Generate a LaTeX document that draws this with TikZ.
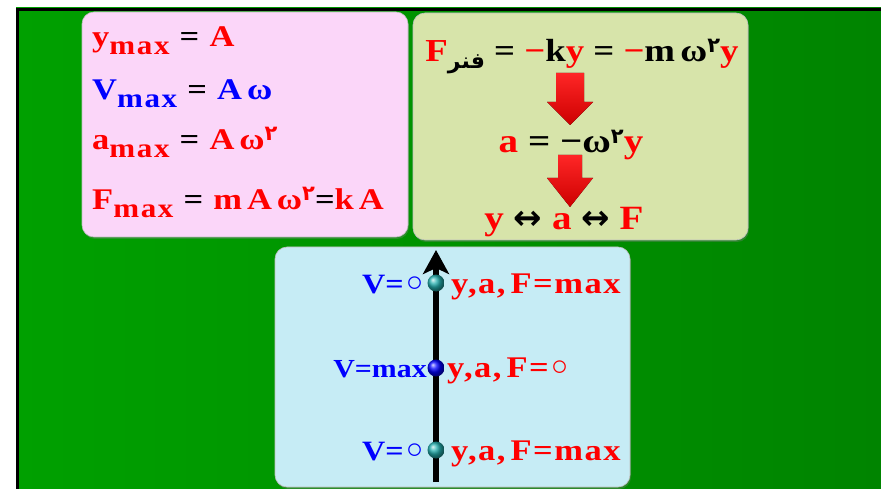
\documentclass[tikz,border=0pt]{standalone}
\usepackage{fontspec}
\setmainfont{Liberation Serif}[FakeStretch=1.15]
\newfontfamily\arabicfont[Script=Arabic]{DejaVu Sans}
\newfontfamily\symfont{DejaVu Sans}
\TeXXeTstate=1
\usetikzlibrary{arrows.meta,shadows}

\definecolor{bggreen}{RGB}{0,160,0}
\definecolor{bgdark}{RGB}{0,132,0}
\definecolor{boxpink}{RGB}{251,214,249}
\definecolor{boxolive}{RGB}{215,228,170}
\definecolor{boxcyan}{RGB}{198,236,245}
\definecolor{dotteal}{RGB}{35,175,175}
\definecolor{eqred}{RGB}{255,0,0}
\definecolor{eqblue}{RGB}{0,0,255}

\newcommand\cred[1]{\textcolor{eqred}{#1}}
\newcommand\cblue[1]{\textcolor{eqblue}{#1}}
\newcommand\low[1]{\raisebox{-8pt}{\fontsize{27}{27}\selectfont\addfontfeature{LetterSpace=6}#1}}
\newcommand\two{\raisebox{9pt}{\fontsize{21}{21}\arabicfont ٢}}
\newcommand\lowar[1]{\raisebox{-7pt}{\fontsize{22}{22}\arabicfont\beginR #1\endR}}
\newcommand\zero{\raisebox{-3pt}{\fontsize{36}{36}\symfont ◦}}

\tikzset{
  panel/.style={rounded corners=12pt, draw=black!25, line width=0.6pt,
    drop shadow={shadow xshift=1pt, shadow yshift=-2pt, opacity=0.35}},
  eq/.style={inner sep=0pt, font=\bfseries\fontsize{#1}{#1}\selectfont},
  eq/.default=30,
  spaced/.style={font=\bfseries\fontsize{30}{30}\selectfont\addfontfeature{LetterSpace=#1}},
  spaced/.default=5,
  blockarrow/.style={top color=red!85!white, bottom color=red!80!black},
  dot/.style={circle, minimum size=17pt, inner sep=0pt},
}

\begin{document}
\begin{tikzpicture}[x=1pt, y=-1pt]
  \useasboundingbox (0,0) rectangle (881,489);

  % background
  \shade[left color=bggreen, right color=bgdark] (16,8) rectangle (881,489);
  \draw[line width=3pt] (17.5,489) |- (881,9.5);

  % panels
  \path[panel, fill=boxpink] (82,12) rectangle (408,237);
  \path[panel, fill=boxolive] (413,13) rectangle (748,240);
  \path[panel, fill=boxcyan] (275,247) rectangle (630,487);

  % maximum values
  \node[eq, spaced, anchor=base west] (ymax) at (92,47) {\cred{y\low{max}} = \cred{A}};
  \node[eq, spaced, anchor=base west] (vmax) at (92,100) {\cblue{V\low{max}} = \cblue{A\,ω}};
  \node[eq, spaced, anchor=base west] (amax) at (92,150) {\cred{a\low{max}} = \cred{A\,ω\two}};
  \node[eq, spaced, anchor=base west] (fmax) at (92,210) {\cred{F\low{max}} = \cred{m\,A\,ω\two}=\cred{k\,A}};

  % spring force chain
  \node[eq=32, anchor=base] (fspring) at (582,62)
    {\cred{F}\lowar{فنر} = \cred{−}k\cred{y} = \cred{−}m\,ω\two\cred{y}};
  \node[eq=34, anchor=base] (accel) at (571,153) {\cred{a} = −ω\two\cred{y}};
  \node[eq=34, anchor=base] (relation) at (564,230)
    {\cred{y} {\symfont ↔} \cred{a} {\symfont ↔} \cred{F}};
  \fill[blockarrow] (556,73) -- (584,73) -- (584,102) -- (593,102) -- (570,125)
    -- (547,102) -- (556,102) -- cycle;
  \fill[blockarrow] (558,155) -- (582,155) -- (582,178) -- (593,178) -- (570,207)
    -- (547,178) -- (558,178) -- cycle;

  % oscillation axis
  \coordinate (axisbot) at (436,482);
  \coordinate (axistop) at (436,250);
  \draw[line width=6pt, -{Stealth[length=24pt, width=26pt, inset=6pt]}] (axisbot) -- (axistop);
  \node[dot, ball color=dotteal] (ptop) at (436,283) {};
  \node[dot, ball color=eqblue] (pmid) at (436,368) {};
  \node[dot, ball color=dotteal] (pbot) at (436,450) {};

  \node[eq=28, anchor=base east, eqblue] (vtop) at (427,293) {V=\zero};
  \node[eq=26, anchor=base east, eqblue] (vmid) at (427,377) {V=max};
  \node[eq=28, anchor=base east, eqblue] (vbot) at (427,460) {V=\zero};
  \node[eq, spaced, anchor=base west, eqred] (rtop) at (451,293) {y,a,\,F=max};
  \node[eq, spaced, anchor=base west, eqred] (rmid) at (447,377) {y,a,\,F=\zero};
  \node[eq, spaced, anchor=base west, eqred] (rbot) at (451,460) {y,a,\,F=max};
\end{tikzpicture}
\end{document}
